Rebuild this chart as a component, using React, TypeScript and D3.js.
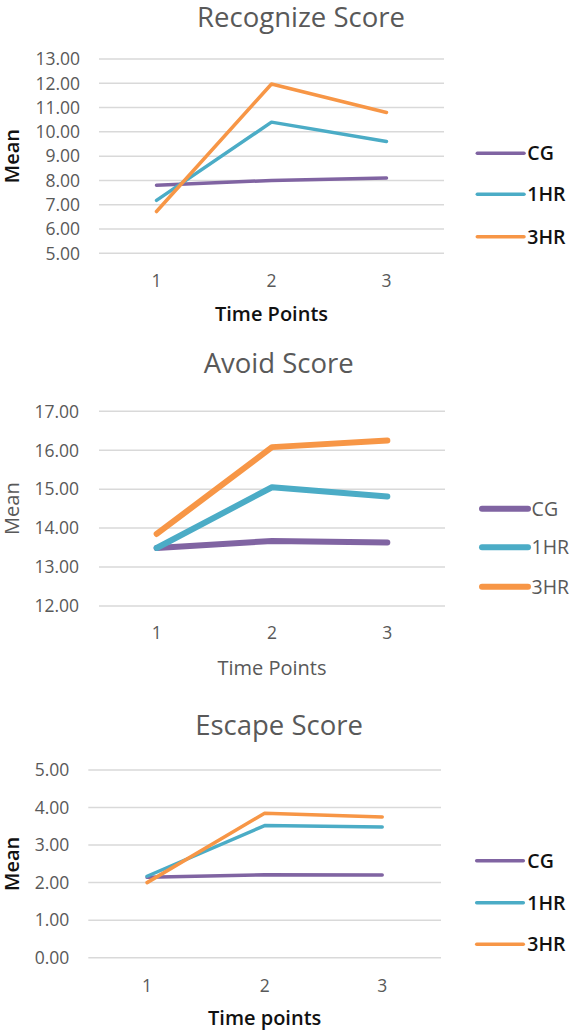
import React from "react";
import * as d3 from "d3";

const timePoints = ["1", "2", "3"];
const seriesNames = ["CG", "1HR", "3HR"];
const seriesColors = ["#8064A2", "#4BACC6", "#F79646"];

const recognizeCG = [7.8, 8.0, 8.1];
const recognize1HR = [7.18, 10.4, 9.6];
const recognize3HR = [6.72, 11.97, 10.8];
const recognizeTicks = [5, 6, 7, 8, 9, 10, 11, 12, 13];

const avoidCG = [13.49, 13.67, 13.63];
const avoid1HR = [13.49, 15.05, 14.81];
const avoid3HR = [13.85, 16.08, 16.25];
const avoidTicks = [12, 13, 14, 15, 16, 17];

const escapeCG = [2.14, 2.21, 2.2];
const escape1HR = [2.17, 3.52, 3.48];
const escape3HR = [2.0, 3.85, 3.75];
const escapeTicks = [0, 1, 2, 3, 4, 5];

const FONT = "'Open Sans', 'Noto Sans', sans-serif";
const GRAY = "#595959";

type ChartSpec = {
  title: string;
  xTitle: string;
  series: number[][];
  ticks: number[];
  left: number;
  right: number;
  top: number;
  bottom: number;
  titleX: number;
  titleY: number;
  tickRight: number;
  xTickY: number;
  xTitleY: number;
  yTitleX: number;
  legendX1: number;
  legendX2: number;
  legendLabelX: number;
  legendYs: number[];
  lineWidth: number;
  bold: boolean;
};

const charts: ChartSpec[] = [
  {
    title: "Recognize Score",
    xTitle: "Time Points",
    series: [recognizeCG, recognize1HR, recognize3HR],
    ticks: recognizeTicks,
    left: 99, right: 444, top: 59, bottom: 253.3,
    titleX: 301, titleY: 17,
    tickRight: 80, xTickY: 280.7, xTitleY: 314, yTitleX: 12,
    legendX1: 477.3, legendX2: 524, legendLabelX: 527.3,
    legendYs: [153.3, 194.3, 236.7],
    lineWidth: 3.5, bold: true,
  },
  {
    title: "Avoid Score",
    xTitle: "Time Points",
    series: [avoidCG, avoid1HR, avoid3HR],
    ticks: avoidTicks,
    left: 99, right: 445, top: 411.3, bottom: 606,
    titleX: 278.7, titleY: 363,
    tickRight: 79, xTickY: 633, xTitleY: 667.7, yTitleX: 12,
    legendX1: 482, legendX2: 528, legendLabelX: 531.6,
    legendYs: [508.7, 547.3, 586.7],
    lineWidth: 6, bold: false,
  },
  {
    title: "Escape Score",
    xTitle: "Time points",
    series: [escapeCG, escape1HR, escape3HR],
    ticks: escapeTicks,
    left: 88.3, right: 441, top: 770, bottom: 957.7,
    titleX: 279, titleY: 725,
    tickRight: 69.3, xTickY: 985.7, xTitleY: 1017.3, yTitleX: 12,
    legendX1: 476.7, legendX2: 523.3, legendLabelX: 527.3,
    legendYs: [860.7, 902.7, 944.3],
    lineWidth: 3.5, bold: true,
  },
];

function Chart({ c }: { c: ChartSpec }) {
  const x = d3.scaleBand<string>().domain(timePoints).range([c.left, c.right]);
  const cx = (d: string) => (x(d) as number) + x.bandwidth() / 2;
  const y = d3
    .scaleLinear()
    .domain([c.ticks[0], c.ticks[c.ticks.length - 1]])
    .range([c.bottom, c.top]);
  const line = d3
    .line<number>()
    .x((_, i) => cx(timePoints[i]))
    .y((v) => y(v));
  const axisTitleFill = c.bold ? "#111" : GRAY;
  const axisTitleWeight = c.bold ? 600 : 400;
  const midY = (c.top + c.bottom) / 2;
  return (
    <g>
      <text x={c.titleX} y={c.titleY} dy="0.36em" textAnchor="middle" fontSize={27.5} fill={GRAY} fontFamily={FONT}>
        {c.title}
      </text>
      {c.ticks.map((t) => (
        <g key={t}>
          <line x1={c.left} x2={c.right} y1={y(t)} y2={y(t)} stroke="#D9D9D9" strokeWidth={1.5} />
          <text x={c.tickRight} y={y(t)} dy="0.36em" textAnchor="end" fontSize={17.5} fill={GRAY} fontFamily={FONT}>
            {d3.format(".2f")(t)}
          </text>
        </g>
      ))}
      {timePoints.map((tp) => (
        <text key={tp} x={cx(tp)} y={c.xTickY} dy="0.36em" textAnchor="middle" fontSize={17.5} fill={GRAY} fontFamily={FONT}>
          {tp}
        </text>
      ))}
      <text x={cx(timePoints[1])} y={c.xTitleY} dy="0.36em" textAnchor="middle" fontSize={20} fontWeight={axisTitleWeight} fill={axisTitleFill} fontFamily={FONT}>
        {c.xTitle}
      </text>
      <text
        transform={`translate(${c.yTitleX},${midY}) rotate(-90)`}
        dy="0.36em"
        textAnchor="middle"
        fontSize={20}
        fontWeight={axisTitleWeight}
        fill={axisTitleFill}
        fontFamily={FONT}
      >
        Mean
      </text>
      {c.series.map((s, i) => (
        <path key={i} d={line(s) || ""} fill="none" stroke={seriesColors[i]} strokeWidth={c.lineWidth} strokeLinejoin="round" strokeLinecap="round" />
      ))}
      {seriesNames.map((n, i) => (
        <g key={n}>
          <line x1={c.legendX1} x2={c.legendX2} y1={c.legendYs[i]} y2={c.legendYs[i]} stroke={seriesColors[i]} strokeWidth={c.lineWidth} strokeLinecap="round" />
          <text x={c.legendLabelX} y={c.legendYs[i]} dy="0.36em" fontSize={19.5} fontWeight={axisTitleWeight} fill={axisTitleFill} fontFamily={FONT}>
            {n}
          </text>
        </g>
      ))}
    </g>
  );
}

export default function App() {
  return (
    <svg width={569} height={1033} style={{ position: "absolute", left: 0, top: 0, background: "#fff" }}>
      <rect width={569} height={1033} fill="#fff" />
      {charts.map((c) => (
        <Chart key={c.title} c={c} />
      ))}
    </svg>
  );
}
